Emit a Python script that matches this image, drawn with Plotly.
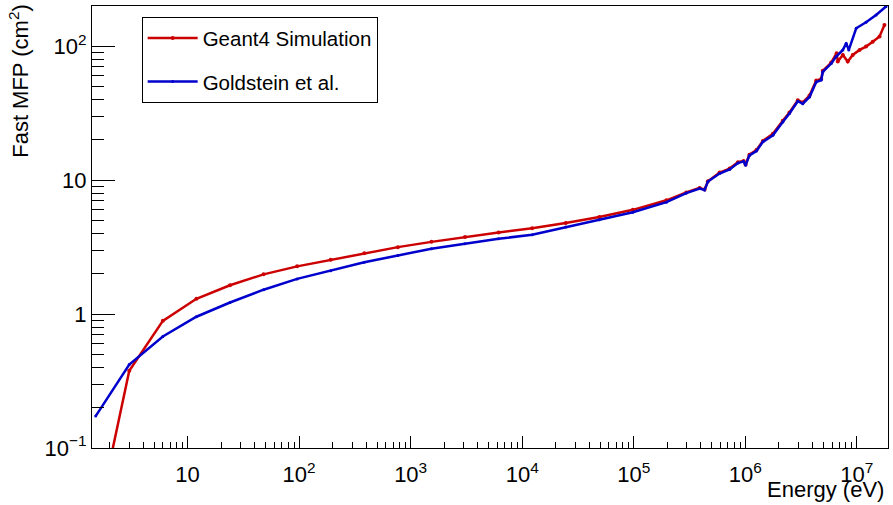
import plotly.graph_objects as go

# ---- data ----
geant4_E = [1.5, 3, 6, 12, 24, 48, 96, 192, 384, 768, 1536, 3072, 6144, 12288,
            24576, 49152, 98304, 196608, 2.96e5, 3.9e5, 4.32e5, 4.63e5, 5.89e5,
            7.24e5, 8.6e5, 9.66e5, 1.007e6, 1.09e6, 1.26e6, 1.44e6, 1.77e6, 2.17e6,
            2.49e6, 2.96e6, 3.28e6, 3.77e6, 4.33e6, 4.8e6, 4.96e6, 5.9e6, 6.6e6,
            6.76e6, 7.5e6, 8.3e6, 9.2e6, 1.06e7, 1.21e7, 1.39e7, 1.6e7, 1.77e7]
geant4_MFP = [0.025, 0.377, 0.89, 1.30, 1.64, 1.98, 2.27, 2.54, 2.85, 3.16, 3.46,
              3.76, 4.06, 4.38, 4.78, 5.3, 6.0, 7.07, 8.1, 8.75, 8.5, 9.8, 11.4,
              12.2, 13.6, 13.9, 13.1, 15.5, 16.8, 19.6, 22.2, 27.8, 32.0, 39.5,
              38.0, 42.8, 55.5, 57.0, 65.5, 75.5, 88.7, 76.8, 86.1, 76.8, 86.1,
              93.8, 99.3, 108, 118, 144]

goldstein_E = [1.5, 3, 6, 12, 24, 48, 96, 192, 384, 768, 1536, 3072, 6144, 12288,
               24576, 49152, 98304, 196608, 2.96e5, 3.9e5, 4.32e5, 4.63e5, 5.89e5,
               7.24e5, 8.6e5, 9.66e5, 1.007e6, 1.09e6, 1.26e6, 1.44e6, 1.77e6, 2.17e6,
               2.49e6, 2.96e6, 3.28e6, 3.77e6, 4.33e6, 4.8e6, 4.96e6, 5.9e6, 6.54e6,
               7.5e6, 8.04e6, 8.48e6, 9.88e6, 1.21e7, 1.49e7, 1.83e7]
goldstein_MFP = [0.173, 0.42, 0.68, 0.955, 1.22, 1.52, 1.83, 2.11, 2.44, 2.74, 3.07,
                 3.35, 3.65, 3.91, 4.46, 5.06, 5.75, 6.85, 8.0, 8.65, 8.45, 9.75,
                 11.2, 12.0, 13.4, 13.8, 12.9, 15.3, 16.5, 19.3, 21.6, 27.2, 31.4,
                 38.8, 37.2, 41.8, 54.0, 55.8, 64.2, 74.2, 83.6, 93.8, 105, 93.8,
                 136, 151, 171, 198]

x_tickvals = [10, 1e2, 1e3, 1e4, 1e5, 1e6, 1e7]
x_ticktext = ["10", "10<sup>2</sup>", "10<sup>3</sup>", "10<sup>4</sup>",
              "10<sup>5</sup>", "10<sup>6</sup>", "10<sup>7</sup>"]
y_tickvals = [0.1, 1, 10, 100]
y_ticktext = ["10<sup>\u22121</sup>", "1", "10", "10<sup>2</sup>"]

FONT = "Liberation Sans, Arial, sans-serif"
RED = "#cc0000"
BLUE = "#0000cc"

x_minor = [m * 10 ** k for k in range(0, 8) for m in range(2, 10)]
y_minor = [m * 10 ** k for k in range(-1, 3) for m in range(2, 10)]

fig = go.Figure()
fig.add_trace(go.Scatter(
    x=geant4_E, y=geant4_MFP, mode="lines+markers", name="Geant4 Simulation",
    line=dict(color=RED, width=2.5), marker=dict(color=RED, size=4),
    legendgroup="g1"))
fig.add_trace(go.Scatter(
    x=goldstein_E, y=goldstein_MFP, mode="lines+markers", name="Goldstein et al.",
    line=dict(color=BLUE, width=2.5), marker=dict(color=BLUE, size=3),
    legendgroup="g2"))

fig.update_layout(
    width=893, height=505,
    margin=dict(l=92, r=5, t=6, b=57, autoexpand=False),
    paper_bgcolor="white", plot_bgcolor="white",
    font=dict(family=FONT, size=22, color="black"),
    showlegend=True,
    legend=dict(
        x=0.0624, y=0.975, xanchor="left", yanchor="top",
        bordercolor="black", borderwidth=1, bgcolor="white",
        font=dict(family=FONT, size=20.5, color="black"),
        tracegroupgap=14, itemwidth=50,
    ),
    xaxis=dict(
        type="log", range=[0.143, 7.28], automargin=False,
        showline=True, linecolor="black", linewidth=1, mirror=True,
        showgrid=False, zeroline=False,
        ticks="inside", ticklen=12, tickwidth=1, tickcolor="black",
        tickmode="array", tickvals=x_tickvals, ticktext=x_ticktext,
        ticklabelstandoff=7,
        tickfont=dict(family=FONT, size=22, color="black"),
        minor=dict(ticks="inside", ticklen=6, tickwidth=1, tickcolor="black",
                   tickmode="array", tickvals=x_minor, showgrid=False),
    ),
    yaxis=dict(
        type="log", range=[-1, 2.3], automargin=False,
        showline=True, linecolor="black", linewidth=1, mirror=True,
        showgrid=False, zeroline=False,
        ticks="inside", ticklen=23, tickwidth=1, tickcolor="black",
        tickmode="array", tickvals=y_tickvals, ticktext=y_ticktext,
        tickfont=dict(family=FONT, size=22, color="black"),
        minor=dict(ticks="inside", ticklen=12, tickwidth=1, tickcolor="black",
                   tickmode="array", tickvals=y_minor, showgrid=False),
    ),
    annotations=[
        dict(text="Fast MFP (cm<sup>2</sup>)", textangle=-90,
             xref="paper", yref="paper", x=-0.092, y=1.009,
             xanchor="center", yanchor="top", showarrow=False,
             font=dict(family=FONT, size=22, color="black")),
        dict(text="Energy (eV)",
             xref="paper", yref="paper", x=0.9975, y=-0.06,
             xanchor="right", yanchor="top", showarrow=False,
             font=dict(family=FONT, size=22, color="black")),
    ],
)

fig.write_html("out.html",
               config={"displayModeBar": False},
               post_script="document.body.style.margin='0px';"
                           "document.body.style.overflow='hidden';")
